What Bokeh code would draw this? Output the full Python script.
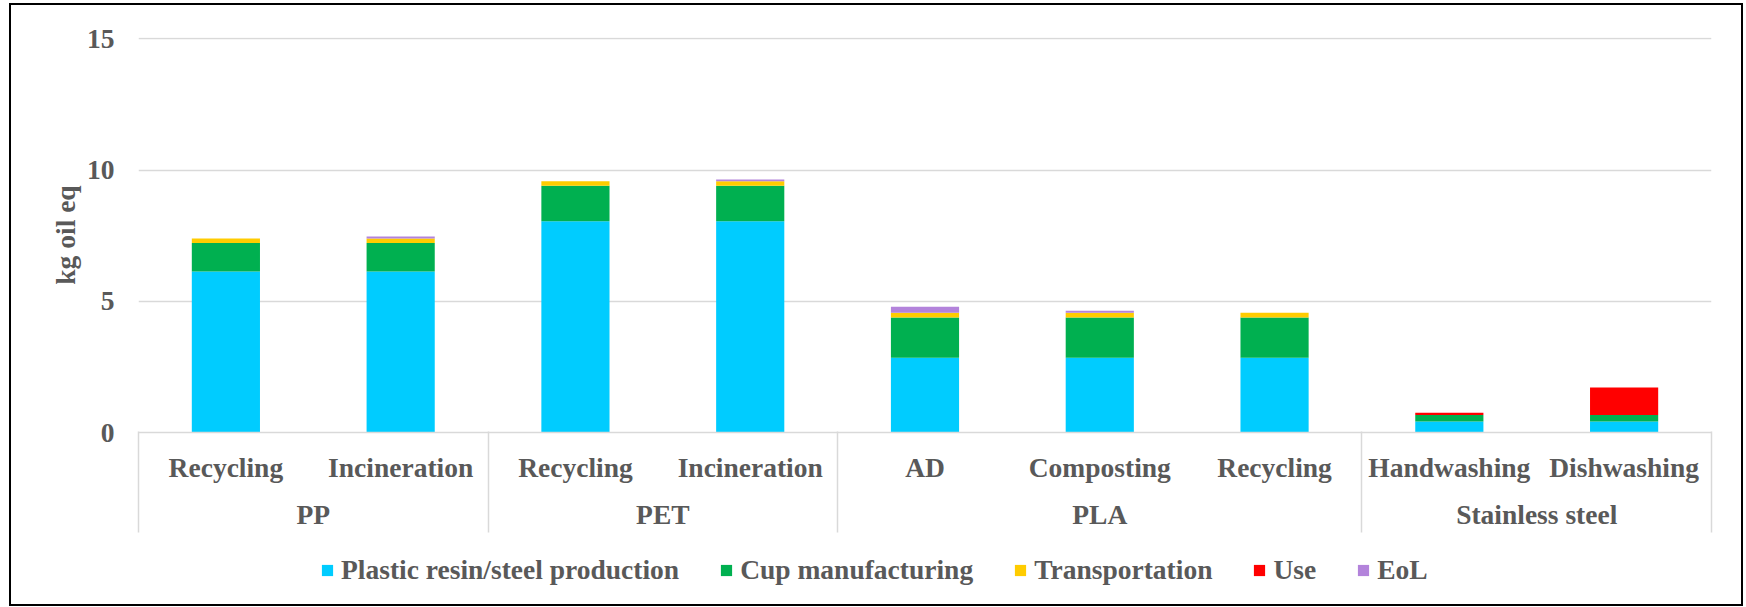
from bokeh.plotting import figure
from bokeh.layouts import column
from bokeh.models import (FactorRange, Range1d, FixedTicker, ColumnDataSource,
                          Legend, LegendItem, LinearAxis, CustomJSTickFormatter,
                          InlineStyleSheet)
from bokeh.embed import file_html
from bokeh.resources import INLINE

# ---- data ----
groups = ["PP", "PP", "PET", "PET", "PLA", "PLA", "PLA", "Stainless steel", "Stainless steel"]
options = ["Recycling", "Incineration", "Recycling", "Incineration", "AD", "Composting",
           "Recycling", "Handwashing", "Dishwashing"]
stages = ["Plastic resin/steel production", "Cup manufacturing", "Transportation", "Use", "EoL"]
resin = [6.13, 6.13, 8.05, 8.05, 2.85, 2.85, 2.85, 0.42, 0.42]
manufacturing = [1.09, 1.09, 1.35, 1.35, 1.53, 1.53, 1.53, 0.25, 0.25]
transport = [0.17, 0.17, 0.17, 0.17, 0.18, 0.18, 0.18, 0.0, 0.0]
use = [0.0, 0.0, 0.0, 0.0, 0.0, 0.0, 0.0, 0.08, 1.04]
eol = [0.0, 0.08, 0.0, 0.07, 0.23, 0.08, 0.0, 0.0, 0.0]
y_ticks = [0, 5, 10, 15]
colors = ["#00CCFF", "#00B050", "#FFCC00", "#FF0000", "#B383DB"]

factors = list(zip(groups, options))
keys = ["s0", "s1", "s2", "s3", "s4"]
source = ColumnDataSource(dict(x=factors, s0=resin, s1=manufacturing, s2=transport,
                               s3=use, s4=eol))

TXT = "#595959"
FONT = "Liberation Serif"
FS = "27.5px"
GRID = "#D9D9D9"
W = 1746
LEFT, TOP, FW, FH = 138, 37, 1573, 395
TOP_H = 538
LEG_H = 69

p = figure(frame_width=FW, frame_height=FH,
           x_range=FactorRange(factors=factors, range_padding=0, factor_padding=0,
                               group_padding=0, subgroup_padding=0),
           y_range=Range1d(0, 15.05),
           output_backend="svg", toolbar_location=None,
           min_border_left=LEFT, min_border_right=W - LEFT - FW, min_border_top=TOP,
           min_border_bottom=TOP_H - TOP - FH)
p.outline_line_color = None
p.background_fill_color = "white"
p.border_fill_color = "white"

renderers = p.vbar_stack(keys, x="x", width=0.39, source=source, color=colors,
                         line_color=None)

# grid
p.xgrid.visible = False
p.ygrid.ticker = FixedTicker(ticks=y_ticks)
p.ygrid.grid_line_color = GRID
p.ygrid.grid_line_width = 1.5

# y axis
ya = p.yaxis[0]
ya.ticker = FixedTicker(ticks=y_ticks)
ya.axis_line_color = None
ya.major_tick_line_color = None
ya.major_tick_out = 0
ya.major_tick_in = 0
ya.minor_tick_line_color = None
ya.minor_tick_out = 0
ya.major_label_standoff = 24
ya.major_label_text_font = FONT
ya.major_label_text_font_size = FS
ya.major_label_text_font_style = "bold"
ya.major_label_text_color = TXT
ya.axis_label = "kg oil eq"
ya.axis_label_text_font = FONT
ya.axis_label_text_font_size = FS
ya.axis_label_text_font_style = "bold"
ya.axis_label_text_color = TXT
ya.axis_label_standoff = 3

# x axis (nested categories)
xa = p.xaxis[0]
xa.axis_line_color = GRID
xa.axis_line_width = 1.5
xa.major_tick_line_color = None
xa.minor_tick_line_color = None
xa.separator_line_color = None
xa.major_label_standoff = 13
xa.major_label_text_font = FONT
xa.major_label_text_font_size = FS
xa.major_label_text_font_style = "bold"
xa.major_label_text_color = TXT
xa.group_text_font = FONT
xa.group_text_font_size = FS
xa.group_text_font_style = "bold"
xa.group_text_color = TXT

# group boundaries -> separator ticks reaching up to the category axis line
bounds = [0]
for i in range(1, len(groups)):
    if groups[i] != groups[i - 1]:
        bounds.append(i)
bounds.append(len(groups))
sep = LinearAxis(ticker=FixedTicker(ticks=bounds),
                 formatter=CustomJSTickFormatter(code="return ''"))
sep.axis_line_color = None
sep.major_tick_in = 101
sep.major_tick_out = 0
sep.major_tick_line_color = GRID
sep.major_tick_line_width = 1.5
sep.minor_tick_line_color = None
sep.minor_tick_out = 0
sep.major_label_text_font_size = "1px"
sep.major_label_standoff = 0
p.add_layout(sep, "below")

# ---- legend strip ----
p2 = figure(width=W, height=LEG_H, x_range=Range1d(0, 1), y_range=Range1d(0, 1),
            output_backend="svg", toolbar_location=None,
            min_border_left=0, min_border_right=0, min_border_top=0, min_border_bottom=0)
p2.axis.visible = False
p2.grid.visible = False
p2.outline_line_color = None
p2.background_fill_color = "white"
p2.border_fill_color = "white"
# legend swatch carriers: zero-height bars, nothing visible in the strip
proxies = [p2.vbar(x=[0.5], top=[0], bottom=[0], width=0.5, color=c, line_color=None)
           for c in colors]

legend = Legend(items=[LegendItem(label=s, renderers=[r]) for s, r in zip(stages, proxies)],
                orientation="horizontal", location=(182, 21))
legend.label_text_font = FONT
legend.label_text_font_size = FS
legend.label_text_font_style = "bold"
legend.label_text_color = TXT
legend.glyph_width = 14
legend.glyph_height = 14
legend.label_standoff = 7
legend.spacing = 40
legend.padding = 0
legend.margin = 0
legend.border_line_color = None
legend.background_fill_alpha = 0
p2.add_layout(legend)

border = InlineStyleSheet(css="""
:host::after {
  content: "";
  position: absolute;
  left: 9px; top: 3px; right: 3px; bottom: 1px;
  border: 2px solid #000000;
  pointer-events: none;
  z-index: 1000;
}
""")
layout = column(p, p2, spacing=0, width=W, height=TOP_H + LEG_H, stylesheets=[border])

open("out.html", "w").write(file_html(layout, INLINE))
